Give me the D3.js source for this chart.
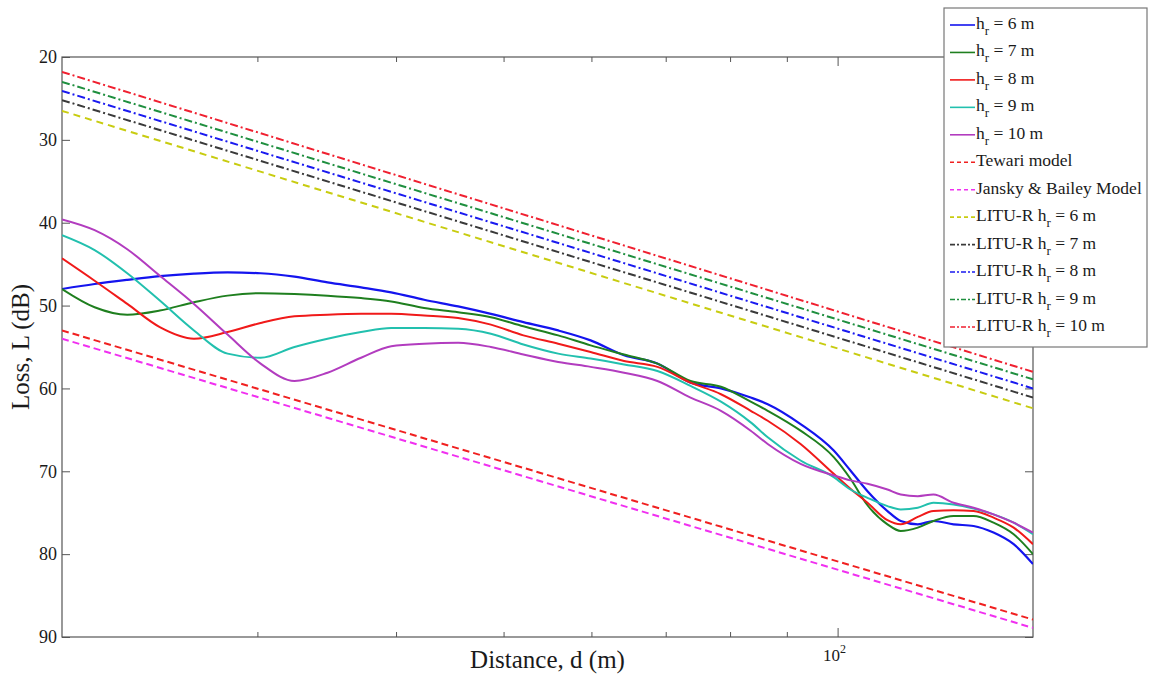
<!DOCTYPE html>
<html><head><meta charset="utf-8">
<script src="https://cdn.jsdelivr.net/npm/d3@7"></script>
<style>
body{margin:0;background:#fff}
svg{display:block}
text{font-family:"Liberation Serif","Times New Roman",serif;fill:#1a1a1a}
</style>
</head><body>
<svg id="c" width="1153" height="696"></svg>
<script>
// ---- data (distance in m, loss in dB) ----
const distance = [20, 21.4, 22.9, 24.5, 26.3, 28.2, 30.2, 32.4, 34.7, 37.2, 39.6, 42.4, 45.5, 48.7, 52.1, 56, 59.9, 64.2, 68.8, 73.7, 78.5, 83.5, 86.5, 92.6, 99.2, 102.7, 106.4, 110.9, 114, 118.1, 122, 127.2, 132.6, 138.2, 144.1, 150];
const lossHr6  = [48.0, 47.4, 46.9, 46.45, 46.15, 46.0, 46.1, 46.5, 47.2, 47.8, 48.4, 49.3, 50.1, 51.0, 52.0, 53.0, 54.2, 56.0, 57.0, 59.3, 60.0, 61.1, 61.9, 64.3, 67.5, 69.9, 72.4, 74.8, 76.0, 76.4, 76.0, 76.4, 76.6, 77.4, 78.8, 81.2];
const lossHr7  = [48.0, 50.2, 51.1, 50.6, 49.6, 48.8, 48.5, 48.6, 48.8, 49.1, 49.5, 50.3, 50.8, 51.4, 52.5, 53.6, 54.8, 55.9, 57.0, 59.1, 59.8, 61.6, 62.7, 65.1, 68.3, 70.9, 74.1, 76.4, 77.2, 76.8, 76.0, 75.4, 75.4, 76.2, 77.6, 80.0];
const lossHr8  = [44.3, 47.0, 49.8, 52.6, 54.0, 53.2, 52.1, 51.3, 51.1, 51.0, 51.0, 51.2, 51.5, 52.3, 53.6, 54.6, 55.6, 56.7, 57.4, 59.3, 60.7, 62.7, 63.9, 66.7, 70.3, 72.1, 73.8, 75.9, 76.4, 75.5, 74.8, 74.7, 74.8, 75.6, 76.8, 78.8];
const lossHr9  = [41.5, 43.3, 46.1, 49.4, 53.0, 55.8, 56.3, 55.0, 54.0, 53.2, 52.7, 52.7, 52.8, 53.4, 54.7, 55.8, 56.4, 57.1, 57.9, 59.7, 61.6, 64.1, 65.9, 68.7, 70.7, 72.2, 73.2, 74.2, 74.6, 74.4, 73.8, 74.0, 74.5, 75.2, 76.2, 77.6];
const lossHr10 = [39.6, 40.9, 43.2, 46.4, 49.8, 53.5, 57.0, 59.1, 58.1, 56.3, 54.9, 54.6, 54.5, 55.0, 55.9, 56.8, 57.4, 58.1, 59.1, 61.1, 62.7, 65.1, 66.7, 69.1, 70.5, 71.1, 71.5, 72.2, 72.8, 73.0, 72.8, 73.8, 74.4, 75.2, 76.2, 77.4];

const modelDistance = [20, 150];
const tewari  = [53.0, 87.9];
const jansky  = [54.0, 88.9];
const ituHr6  = [26.5, 62.4];
const ituHr7  = [25.2, 61.1];
const ituHr8  = [24.1, 60.0];
const ituHr9  = [23.0, 58.9];
const ituHr10 = [21.8, 58.0];

const yTicks = [20, 30, 40, 50, 60, 70, 80, 90];
const xMinorTicks = [30, 40, 50, 60, 70, 80, 90];
const xMajorTicks = [100];

const legendLabels = ["h_r = 6 m", "h_r = 7 m", "h_r = 8 m", "h_r = 9 m", "h_r = 10 m",
  "Tewari model", "Jansky & Bailey Model",
  "LITU-R h_r = 6 m", "LITU-R h_r = 7 m", "LITU-R h_r = 8 m", "LITU-R h_r = 9 m", "LITU-R h_r = 10 m"];

// ---- series styling ----
const series = [
  {d: distance, v: lossHr6,  color: "#1414ee", dash: null, w: 2.2},
  {d: distance, v: lossHr7,  color: "#1f7f1f", dash: null, w: 2.0},
  {d: distance, v: lossHr8,  color: "#f01a1a", dash: null, w: 2.0},
  {d: distance, v: lossHr9,  color: "#22c0ae", dash: null, w: 2.0},
  {d: distance, v: lossHr10, color: "#b23cbf", dash: null, w: 2.0},
  {d: modelDistance, v: tewari,  color: "#f02020", dash: "7,4", w: 2.0},
  {d: modelDistance, v: jansky,  color: "#f030f0", dash: "7,4", w: 2.0},
  {d: modelDistance, v: ituHr6,  color: "#c8cc10", dash: "7,5", w: 2.0},
  {d: modelDistance, v: ituHr7,  color: "#3a3a3a", dash: "8,3,2,3", w: 2.0},
  {d: modelDistance, v: ituHr8,  color: "#1a1af0", dash: "8,3,2,3", w: 2.0},
  {d: modelDistance, v: ituHr9,  color: "#1f8f3f", dash: "8,3,2,3", w: 2.0},
  {d: modelDistance, v: ituHr10, color: "#f02030", dash: "8,3,2,3", w: 2.0}
];

const svg = d3.select("#c");
const L = 62, R = 1033, T = 57, B = 637;
const x = d3.scaleLog().domain([20, 150]).range([L, R]);
const y = d3.scaleLinear().domain([20, 90]).range([T, B]);

svg.append("defs").append("clipPath").attr("id", "clip")
  .append("rect").attr("x", L).attr("y", T).attr("width", R - L).attr("height", B - T);

const axisColor = "#555";
function styleAxis(g){ g.select(".domain").remove(); g.selectAll("line").attr("stroke", axisColor); g.selectAll("text").attr("font-size", 18).attr("fill", "#333").style("font-family", '"Liberation Serif", serif'); }

// axes
svg.append("g").attr("transform", `translate(${L},0)`)
  .call(d3.axisLeft(y).tickValues(yTicks).tickSize(-8).tickPadding(5).tickFormat(d3.format("d"))).call(styleAxis);
svg.append("g").attr("transform", `translate(${R},0)`)
  .call(d3.axisRight(y).tickValues(yTicks).tickSize(-8).tickFormat("")).call(styleAxis);
svg.append("g").attr("transform", `translate(0,${B})`)
  .call(d3.axisBottom(x).tickValues(xMinorTicks).tickSize(-5).tickFormat("")).call(styleAxis);
svg.append("g").attr("transform", `translate(0,${B})`)
  .call(d3.axisBottom(x).tickValues(xMajorTicks).tickSize(-9).tickFormat("")).call(styleAxis);
svg.append("g").attr("transform", `translate(0,${T})`)
  .call(d3.axisTop(x).tickValues(xMinorTicks).tickSize(-5).tickFormat("")).call(styleAxis);
svg.append("g").attr("transform", `translate(0,${T})`)
  .call(d3.axisTop(x).tickValues(xMajorTicks).tickSize(-9).tickFormat("")).call(styleAxis);

// 10^2 label
xMajorTicks.forEach(v => {
  const t = svg.append("text").attr("x", x(v) - 3).attr("y", B + 24).attr("text-anchor", "middle").attr("font-size", 17).attr("fill", "#333");
  t.append("tspan").text("10");
  t.append("tspan").attr("dy", -8).attr("font-size", 12).text(String(Math.round(Math.log10(v))));
});

// box
svg.append("rect").attr("x", L).attr("y", T).attr("width", R - L).attr("height", B - T)
  .attr("fill", "none").attr("stroke", axisColor).attr("stroke-width", 1.2);

// axis titles
svg.append("text").attr("x", (L + R) / 2).attr("y", 668).attr("text-anchor", "middle")
  .attr("font-size", 25).text("Distance, d (m)");
svg.append("text").attr("transform", `translate(29,${(T + B) / 2}) rotate(-90)`).attr("text-anchor", "middle")
  .attr("font-size", 25).text("Loss, L (dB)");

// lines
const plot = svg.append("g").attr("clip-path", "url(#clip)");
series.forEach(s => {
  const pts = s.d.map((d, i) => [d, s.v[i]]);
  const line = d3.line().x(p => x(p[0])).y(p => y(p[1]))
    .curve(s.d.length > 2 ? d3.curveMonotoneX : d3.curveLinear);
  plot.append("path").attr("d", line(pts)).attr("fill", "none")
    .attr("stroke", s.color).attr("stroke-width", s.w)
    .attr("stroke-dasharray", s.dash);
});

// legend
const lg = svg.append("g");
lg.append("rect").attr("x", 944).attr("y", 8).attr("width", 203).attr("height", 339)
  .attr("fill", "#fff").attr("stroke", "#777").attr("stroke-width", 1.2);
legendLabels.forEach((lab, i) => {
  const ly = 25 + i * 27.45;
  const s = series[i];
  lg.append("line").attr("x1", 950).attr("x2", 975).attr("y1", ly).attr("y2", ly)
    .attr("stroke", s.color).attr("stroke-width", 1.6).attr("stroke-dasharray", s.dash ? (s.dash === "8,3,2,3" ? "5,2,2,2" : "4,3") : null);
  const t = lg.append("text").attr("x", 976).attr("y", ly + 4).attr("font-size", 17.5);
  const parts = lab.split("_r");
  if (parts.length === 2) {
    t.append("tspan").text(parts[0]);
    t.append("tspan").attr("dy", 6).attr("font-size", 13).text("r");
    t.append("tspan").attr("dy", -6).text(parts[1]);
  } else {
    t.text(lab);
  }
});
</script>
</body></html>
